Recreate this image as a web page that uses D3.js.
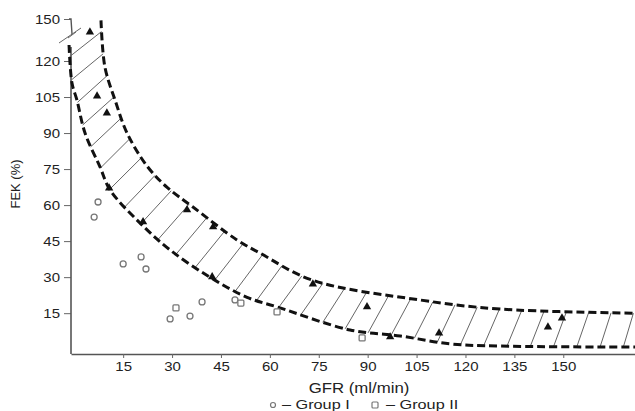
<!DOCTYPE html>
<html>
<head>
<meta charset="utf-8">
<script src="https://cdn.jsdelivr.net/npm/d3@7"></script>
<style>
  body { margin: 0; background: #fff; }
  text { font-family: 'Liberation Sans', Arial, sans-serif; fill: #222; }
</style>
</head>
<body>
<svg width="635" height="411"></svg>
<script>
// tick values
const xTicks = [15, 30, 45, 60, 75, 90, 105, 120, 135, 150];
const yTicks = [15, 30, 45, 60, 75, 90, 105, 120, 150];

// band edges [GFR, FEK]
const upperBand = [[8.2, 149], [9.4, 117.5], [12.5, 103.8], [16.2, 90], [22.3, 76.3], [28.4, 67.5],
  [36.4, 59.2], [49.9, 45.5], [57, 40], [72.9, 28.8], [106, 20.5], [130.6, 16.7], [172, 15]];
const lowerBand = [[-1.6, 131.4], [-0.7, 110.8], [0.8, 103.8], [3.3, 90], [7.9, 75.9], [11, 66.3],
  [20.2, 52.5], [29.4, 41.3], [41.6, 30], [53, 21.6], [62.2, 17.6], [84.6, 8], [100, 5.5],
  [115.3, 2.2], [130.6, 1.3], [172, 0.9]];

// points [GFR, FEK]
const triangles = [[4.8, 140.7], [7, 105.4], [10, 98.3], [10.7, 67.1], [21.1, 53], [34.6, 58],
  [42.6, 50.9], [42.3, 30.1], [73.2, 27.1], [89.8, 17.6], [96.9, 5.1], [111.9, 6.7],
  [145.3, 9.2], [149.6, 13]];
const group1 = [[7.3, 61.3], [6.1, 55], [15, 35.5], [20.5, 38.4], [22, 33.4], [39.2, 19.7],
  [35.5, 13.8], [29.4, 12.6], [49.3, 20.5]];
const group2 = [[31.2, 17.2], [51.1, 19.2], [62.2, 15.5], [88.3, 4.7]];

const stretch = 1.2;
const svg = d3.select('svg');

const x = d3.scaleLinear().domain([-1, 172]).range([71, 635]);
// broken axis: 120 -> 150 squeezed
const y = d3.scaleLinear().domain([-2, 120, 150]).range([354, 61, 19]);

// axes
const xAxis = svg.append('g')
  .attr('transform', `translate(0,${y(-2)})`)
  .call(d3.axisBottom(x).tickValues(xTicks).tickSize(4).tickPadding(4.5).tickSizeOuter(0));
xAxis.select('.domain').attr('stroke', '#555').attr('stroke-width', 1.6);
xAxis.selectAll('.tick line').attr('stroke', '#666');
xAxis.selectAll('text').style('font-size', '12.5px').attr('transform', `scale(${stretch},1)`);

const yAxis = svg.append('g')
  .attr('transform', `translate(${x(-1)},0)`)
  .call(d3.axisLeft(y).tickValues(yTicks).tickSize(7).tickPadding(2));
yAxis.select('.domain').remove();
yAxis.selectAll('.tick line').attr('stroke', '#666');
yAxis.selectAll('text').style('font-size', '12.5px')
  .attr('x', -11 / stretch)
  .attr('transform', `scale(${stretch},1)`);

// y axis line with break
const ax = x(-1);
svg.append('line').attr('x1', ax).attr('x2', ax).attr('y1', 47).attr('y2', y(-2))
  .attr('stroke', '#555').attr('stroke-width', 1.6);
svg.append('path').attr('d', `M${ax - 2},${y(150)}L${ax},${y(150)}L${ax + 1},34`)
  .attr('fill', 'none').attr('stroke', '#555').attr('stroke-width', 1.4);
svg.append('line').attr('x1', ax - 12).attr('y1', 43).attr('x2', ax + 10).attr('y2', 28)
  .attr('stroke', '#666').attr('stroke-width', 1);
svg.append('line').attr('x1', ax - 3).attr('y1', 38).attr('x2', ax + 5).attr('y2', 32)
  .attr('stroke', '#666').attr('stroke-width', 1);

// band
const line = d3.line().x(d => x(d[0])).y(d => y(d[1])).curve(d3.curveCatmullRom.alpha(0.5));
const hatchGrp = svg.append('g').attr('class', 'hatch');
const bandGrp = svg.append('g').attr('class', 'band');
const upPath = bandGrp.append('path').attr('d', line(upperBand));
const loPath = bandGrp.append('path').attr('d', line(lowerBand));
bandGrp.selectAll('path')
  .attr('fill', 'none').attr('stroke', '#111').attr('stroke-width', 3)
  .attr('stroke-dasharray', '8,4');

const upLen = upPath.node().getTotalLength();
const loLen = loPath.node().getTotalLength();
const nHatch = 31;
const hatch = d3.range(nHatch).map(i => {
  const f = (i + 0.5) / nHatch;
  const fu = Math.min(1, f + 0.014 * f);
  return [loPath.node().getPointAtLength(f * loLen), upPath.node().getPointAtLength(fu * upLen)];
});
hatchGrp.selectAll('line').data(hatch).enter().append('line')
  .attr('x1', d => d[0].x).attr('y1', d => d[0].y)
  .attr('x2', d => d[1].x).attr('y2', d => d[1].y)
  .attr('stroke', '#666').attr('stroke-width', 1);

// points
svg.append('g').selectAll('path').data(triangles).enter().append('path')
  .attr('d', d3.symbol().type(d3.symbolTriangle).size(30))
  .attr('transform', d => `translate(${x(d[0])},${y(d[1])})`)
  .attr('fill', '#111');

svg.append('g').selectAll('circle').data(group1).enter().append('circle')
  .attr('cx', d => x(d[0])).attr('cy', d => y(d[1])).attr('r', 3)
  .attr('fill', '#fff').attr('stroke', '#777').attr('stroke-width', 1.3);

svg.append('g').selectAll('rect').data(group2).enter().append('rect')
  .attr('x', d => x(d[0]) - 3).attr('y', d => y(d[1]) - 3)
  .attr('width', 6).attr('height', 6).attr('rx', 1)
  .attr('fill', '#fff').attr('stroke', '#777').attr('stroke-width', 1.3);

// titles
svg.append('text')
  .attr('transform', `translate(359,393) scale(${stretch},1)`)
  .attr('text-anchor', 'middle')
  .style('font-size', '14px')
  .text('GFR (ml/min)');

svg.append('text')
  .attr('transform', 'translate(20,184) rotate(-90)')
  .attr('text-anchor', 'middle')
  .style('font-size', '13px')
  .text('FEK (%)');

// legend
svg.append('circle').attr('cx', 273).attr('cy', 405).attr('r', 2.5)
  .attr('fill', '#fff').attr('stroke', '#777').attr('stroke-width', 1.2);
svg.append('text').attr('transform', `translate(282,409) scale(1.25,1)`)
  .style('font-size', '13px').text('– Group I');
svg.append('rect').attr('x', 372).attr('y', 402).attr('width', 6).attr('height', 6).attr('rx', 1)
  .attr('fill', '#fff').attr('stroke', '#777').attr('stroke-width', 1.2);
svg.append('text').attr('transform', `translate(386,409) scale(1.25,1)`)
  .style('font-size', '13px').text('– Group II');
</script>
</body>
</html>
